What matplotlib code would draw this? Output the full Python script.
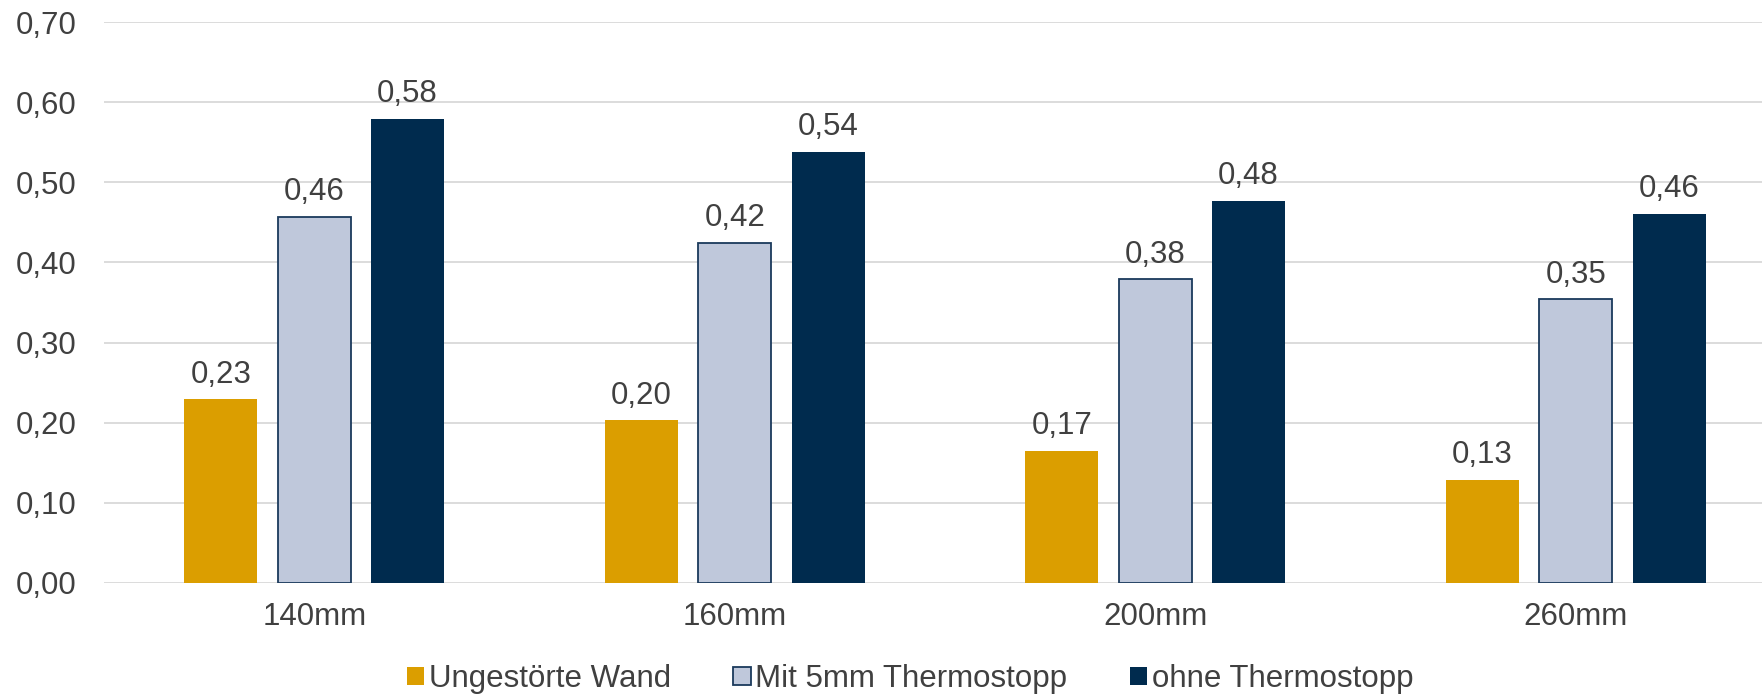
import matplotlib
matplotlib.use("Agg")
import matplotlib.pyplot as plt
import numpy as np

categories = ["140mm", "160mm", "200mm", "260mm"]
series_names = ["Ungestörte Wand", "Mit 5mm Thermostopp", "ohne Thermostopp"]
ungestoert = [0.229, 0.203, 0.165, 0.129]
mit_thermostopp = [0.457, 0.424, 0.379, 0.354]
ohne_thermostopp = [0.579, 0.538, 0.477, 0.461]
yticks = [0.0, 0.1, 0.2, 0.3, 0.4, 0.5, 0.6, 0.7]

colors = ["#DB9E00", "#BFC8DB", "#002B4E"]
edges = ["#DB9E00", "#1B3A5C", "#002B4E"]
text_color = "#404040"

plt.rcParams["font.family"] = ["Liberation Sans", "DejaVu Sans"]
fs = 22.5

W, H = 1762, 697
fig = plt.figure(figsize=(W / 100, H / 100), dpi=100)
left_px, right_px, top_px, bot_px = 104, 1762, 22, 583
ax = fig.add_axes([left_px / W, 1 - bot_px / H, (right_px - left_px) / W, (bot_px - top_px) / H])

x = np.arange(len(categories))
slot = 0.222
bw = 0.174
data = [ungestoert, mit_thermostopp, ohne_thermostopp]
for i, (vals, name) in enumerate(zip(data, series_names)):
    lw = 1.3 if i == 1 else 0
    bars = ax.bar(x + (i - 1) * slot, vals, width=bw, color=colors[i], edgecolor=edges[i],
                  linewidth=lw, label=name, zorder=3)
    for b, v in zip(bars, vals):
        ax.annotate(f"{v:.2f}".replace(".", ","), (b.get_x() + b.get_width() / 2, v),
                    xytext=(0, 7), textcoords="offset points", ha="center", va="bottom",
                    fontsize=fs, color=text_color)

spacing_px = 420.5
ax.set_xlim(-0.5, -0.5 + (right_px - left_px) / spacing_px)
ax.set_ylim(0, 0.7)
ax.set_yticks(yticks)
ax.set_yticklabels([f"{t:.2f}".replace(".", ",") for t in yticks])
ax.set_xticks(x)
ax.set_xticklabels(categories)
ax.tick_params(axis="both", length=0, labelsize=fs, colors=text_color)
ax.tick_params(axis="y", pad=20)
ax.tick_params(axis="x", pad=14)
ax.grid(axis="y", color="#D9D9D9", linewidth=1.3, zorder=0)
ax.set_axisbelow(True)
for s in ax.spines.values():
    s.set_visible(False)

leg = fig.legend(loc="center", bbox_to_anchor=(910 / W, 1 - 679 / H), ncol=3, frameon=False,
                 fontsize=fs, handlelength=0.55, handleheight=0.55, handletextpad=0.15,
                 columnspacing=2.0, labelcolor=text_color)

fig.savefig("out.png", dpi=100)
